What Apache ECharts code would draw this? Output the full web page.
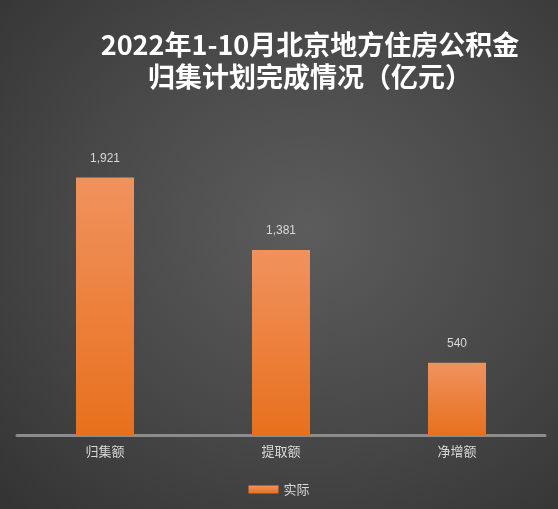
<!DOCTYPE html>
<html>
<head>
<meta charset="utf-8">
<script src="https://cdn.jsdelivr.net/npm/echarts@6/dist/echarts.min.js"></script>
<style>
html, body { margin: 0; padding: 0; }
#main { width: 558px; height: 509px;
  background: radial-gradient(ellipse at 55% 45%, #5c5c5c 0%, #474747 55%, #333333 100%); }
</style>
</head>
<body>
<div id="main"></div>
<script>
const categories = ["归集额", "提取额", "净增额"];
const actual = [1921, 1381, 540];

var myChart = echarts.init(document.querySelector("#main"));
myChart.setOption({
  title: {
    text: "2022年1-10月北京地方住房公积金\n归集计划完成情况（亿元）",
    left: 305,
    top: 24,
    textAlign: "center",
    textStyle: {
      color: "#ffffff",
      fontSize: 27,
      fontWeight: "bold",
      lineHeight: 32,
      fontFamily: "Noto Sans CJK SC"
    }
  },
  legend: {
    bottom: 8,
    left: "center",
    icon: "rect",
    itemWidth: 30,
    itemHeight: 8,
    textStyle: { color: "#d9d9d9", fontSize: 13, fontFamily: "Noto Sans CJK SC" },
    data: ["实际"]
  },
  grid: { left: 17, right: 13, top: 100, bottom: 74 },
  xAxis: {
    type: "category",
    data: categories,
    axisLine: { lineStyle: { color: "#8c8c8c", width: 3 } },
    axisTick: { show: false },
    axisLabel: { color: "#d9d9d9", fontSize: 13, margin: 10, fontFamily: "Noto Sans CJK SC" }
  },
  yAxis: {
    type: "value",
    min: 0,
    max: 2500,
    show: false,
    splitLine: { show: false }
  },
  series: [{
    name: "实际",
    type: "bar",
    barWidth: 58,
    data: actual,
    itemStyle: {
      color: new echarts.graphic.LinearGradient(0, 0, 0, 1, [
        { offset: 0, color: "#f0925e" },
        { offset: 1, color: "#e8701c" }
      ])
    },
    label: {
      show: true,
      position: "top",
      distance: 13,
      color: "#d9d9d9",
      fontSize: 12,
      formatter: function (p) { return p.value.toLocaleString("en-US"); }
    }
  }]
});
window.onresize = function () { myChart.resize(); };
</script>
</body>
</html>
